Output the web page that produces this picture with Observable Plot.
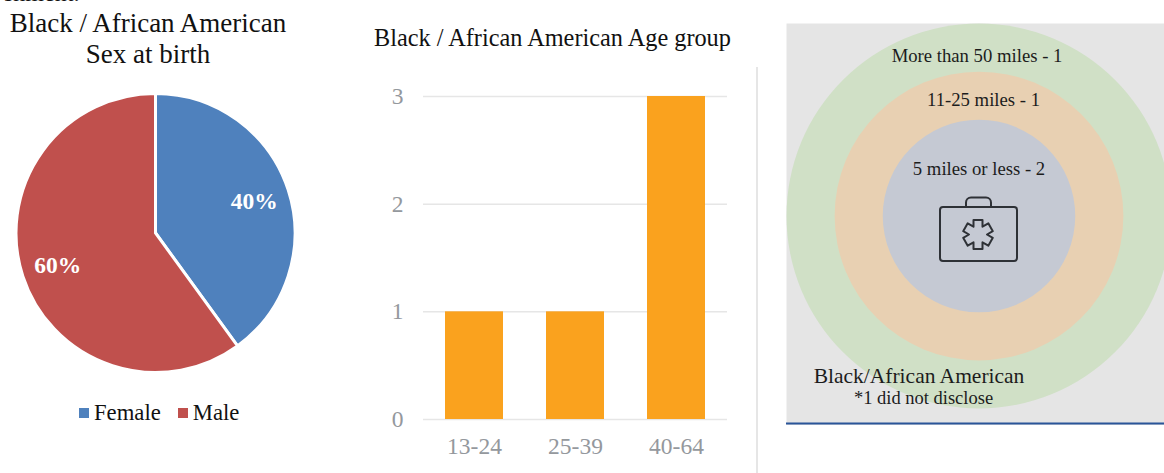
<!DOCTYPE html>
<html>
<head>
<meta charset="utf-8">
<script src="https://cdn.jsdelivr.net/npm/d3@7"></script>
<script src="https://cdn.jsdelivr.net/npm/@observablehq/plot@0.6"></script>
<style>
  html, body { margin: 0; padding: 0; background: #fff; }
  #page { position: relative; width: 1164px; height: 473px; overflow: hidden; font-family: "Liberation Serif", serif; color: #111; }
  .panel { position: absolute; }
  .panel svg { background: none !important; max-width: none; }
  .head { position: absolute; text-align: center; white-space: nowrap; }
  #divider { position: absolute; left: 756px; top: 67px; width: 2px; height: 406px; background: #e6e6e6; }
  .sexkey-swatch { margin-right: 17px !important; }
  .sexkey-swatch svg { margin-right: 5px !important; }
</style>
</head>
<body>
<div id="page">
  <div class="head" style="left:0;top:-20px;width:80px;font-size:24px;text-align:right">shment:</div>
  <div class="head" style="left:0;width:296px;top:8px;font-size:27px;line-height:31px">Black / African American<br>Sex at birth</div>
  <div class="head" style="left:374px;top:24px;font-size:24.3px">Black / African American Age group</div>
  <div id="divider"></div>
</div>
<script>
// Sex at birth
const sexes = ["Female", "Male"];
const sexShares = [40, 60];
const sexColors = ["#4f81bd", "#c0504d"];

// Age group
const ageGroups = ["13-24", "25-39", "40-64"];
const ageCounts = [1, 1, 3];
const ageTicks = [0, 1, 2, 3];

// Distance to care, innermost ring first
const ringNames = ["5 miles or less", "11-25 miles", "More than 50 miles"];
const ringCounts = [2, 1, 1];
const ringRanks = [2, 3, 4];
const ringColors = ["#c5c9d3", "#e8d0b2", "#d0e0c6"];
const ringNotes = ["Black/African American", "*1 did not disclose"];

const serif = "Liberation Serif";
const page = document.getElementById("page");

function place(node, left, top) {
  const holder = document.createElement("div");
  holder.className = "panel";
  holder.style.left = left + "px";
  holder.style.top = top + "px";
  holder.appendChild(node);
  page.appendChild(holder);
  return holder;
}

// Pie wedges, drawn through the plot's x, y and color scales
const sexRows = sexes.map((sex, i) => ({sex, share: sexShares[i]}));
const pieLayout = d3.pie().sort(null).value(d => d.share)(sexRows);
const labelReach = 0.74;
const pieMark = (index, scales, values, dimensions, context) => {
  const cx = scales.x(0), cy = scales.y(0), radius = scales.x(1) - cx;
  const arc = d3.arc().innerRadius(0).outerRadius(radius);
  const g = d3.select(context.document.createElementNS("http://www.w3.org/2000/svg", "g"))
    .attr("transform", `translate(${cx},${cy})`);
  g.selectAll("path").data(pieLayout).join("path")
    .attr("d", arc)
    .attr("fill", d => scales.color(d.data.sex))
    .attr("stroke", "#fff")
    .attr("stroke-width", 3);
  return g.node();
};
const midAngle = d => (d.startAngle + d.endAngle) / 2;

place(Plot.plot({
  width: 370, height: 473, margin: 0,
  x: {domain: [-1, 1], range: [16, 295], axis: null},
  y: {domain: [-1, 1], range: [372.5, 93.5], axis: null},
  color: {domain: sexes, range: sexColors},
  marks: [
    Plot.dot(sexRows, {x: 0, y: 0, r: 0, fill: "sex"}),
    pieMark,
    Plot.text(pieLayout, {
      x: d => labelReach * Math.sin(midAngle(d)),
      y: d => labelReach * Math.cos(midAngle(d)),
      text: d => d.data.share + "%",
      fill: "#fff", fontWeight: "bold", fontSize: 23.5, fontFamily: serif
    })
  ]
}), 0, 0);

const legendBox = place(Plot.legend({
  color: {domain: sexes, range: sexColors},
  legend: "swatches",
  swatchSize: 10,
  className: "sexkey",
  style: {fontSize: "22.7px", fontFamily: serif, color: "#111"}
}), 79, 396);
legendBox.style.width = "220px";

// Age group bars
const ageRows = ageGroups.map((group, i) => ({group, count: ageCounts[i]}));
place(Plot.plot({
  width: 400, height: 473,
  marginLeft: 53, marginRight: 43, marginTop: 96, marginBottom: 54,
  x: {domain: ageGroups, paddingInner: 0.426, paddingOuter: 0.213, label: null},
  y: {domain: [0, 3], label: null},
  style: {fontFamily: serif, fontSize: "23.5px", color: "#94989d"},
  marks: [
    Plot.gridY(ageTicks, {stroke: "#e6e6e6", strokeWidth: 1.5, strokeOpacity: 1}),
    Plot.axisX({anchor: "bottom", tickSize: 0, tickPadding: 18, label: null, fill: "#94989d"}),
    Plot.axisY(ageTicks, {anchor: "left", tickSize: 0, tickPadding: 20, tickFormat: d3.format("d"), label: null, fill: "#94989d"}),
    Plot.barY(ageRows, {x: "group", y: "count", fill: "#faa21e"})
  ]
}), 370, 0);

// Briefcase with a star of life, centred on the innermost ring
const caseMark = (index, scales, values, dimensions, context) => {
  const cx = scales.x(0), cy = scales.y(0);
  const g = d3.select(context.document.createElementNS("http://www.w3.org/2000/svg", "g"))
    .attr("transform", `translate(${cx},${cy})`)
    .attr("fill", "none").attr("stroke", "#2e3136").attr("stroke-width", 2).attr("stroke-linejoin", "round");
  g.append("rect").attr("x", -38.5).attr("y", -8.5).attr("width", 77).attr("height", 54).attr("rx", 3);
  g.append("path").attr("d", "M-12.5,-8.5V-13a5,5 0 0 1 5,-5H7.5a5,5 0 0 1 5,5V-8.5");
  const half = 4.5, reach = 14.5, star = [];
  for (let k = 0; k < 6; ++k) {
    const a = k * Math.PI / 3;
    const ux = Math.sin(a), uy = -Math.cos(a), px = Math.cos(a), py = Math.sin(a);
    star.push([ux * reach - px * half, uy * reach - py * half], [ux * reach + px * half, uy * reach + py * half]);
    const b = a + Math.PI / 6;
    star.push([Math.sin(b) * half * 2, -Math.cos(b) * half * 2]);
  }
  g.append("path").attr("transform", "translate(-0.5,19)").attr("d", d3.line()(star) + "Z");
  return g.node();
};

// Concentric distance rings; the ring rank sets the radius through a linear r scale
const ringRows = ringNames.map((name, i) => ({name, count: ringCounts[i], rank: ringRanks[i], color: ringColors[i]}));
const ringLabelShift = [{dx: 0, dy: -46.5}, {dx: 4.5, dy: -115.5}, {dx: -2, dy: -159.5}];
const noteShift = [{dx: -60, dy: 160.5, size: 21.5}, {dx: -55.5, dy: 182, size: 18.5}];

place(Plot.plot({
  width: 378, height: 402, margin: 0,
  x: {domain: [-4, 4], range: [0, 385], axis: null},
  y: {domain: [-4, 4], range: [0, 385], axis: null},
  r: {type: "linear", domain: [0, 4], range: [0, 192.5]},
  marks: [
    Plot.frame({fill: "#e5e5e5", stroke: null}),
    Plot.dot([...ringRows].reverse(), {x: 0, y: 0, r: "rank", fill: d => d.color, stroke: null}),
    caseMark,
    ...ringRows.map((row, i) => Plot.text([row], {
      x: 0, y: 0, dx: ringLabelShift[i].dx, dy: ringLabelShift[i].dy,
      text: d => `${d.name} - ${d.count}`,
      fontSize: 18.7, fontFamily: serif, fill: "#1c1c1c"
    })),
    ...ringNotes.map((note, i) => Plot.text([note], {
      x: 0, y: 0, dx: noteShift[i].dx, dy: noteShift[i].dy,
      fontSize: noteShift[i].size, fontFamily: serif, fill: "#1c1c1c"
    })),
    Plot.frame({anchor: "bottom", stroke: "#2a5599", strokeWidth: 2, dy: -2})
  ]
}), 786, 23);
</script>
</body>
</html>
